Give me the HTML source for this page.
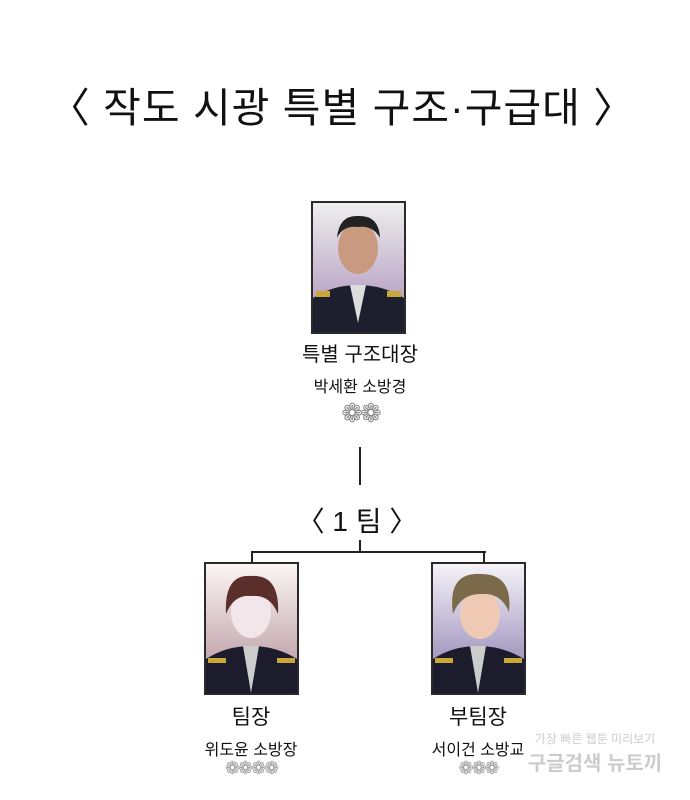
<!DOCTYPE html>
<html><head><meta charset="utf-8"><style>
body{margin:0;width:690px;height:800px;background:#fff;position:relative;overflow:hidden;font-family:"Liberation Sans","Noto Sans CJK KR",sans-serif;color:#111}
.t{position:absolute;left:0;width:690px;text-align:center;white-space:nowrap}
.a{position:absolute;text-align:center;white-space:nowrap}
.p{position:absolute;border:2px solid #2a2a2a;box-sizing:border-box;overflow:hidden}
.l{position:absolute;background:#222}
</style></head><body>
<div class="t" style="top:74px;font-size:41px;font-weight:400;letter-spacing:1px;left:-3px">〈 작도 시광 특별 구조·구급대 〉</div>

<div class="p" style="left:311px;top:201px;width:95px;height:133px">
<svg width="91" height="129"><defs><linearGradient id="g1" x1="0" y1="0" x2="0" y2="1"><stop offset="0" stop-color="#eee"/><stop offset="1" stop-color="#a88bb8"/></linearGradient></defs>
<rect width="91" height="129" fill="url(#g1)"/>
<ellipse cx="45" cy="45" rx="20" ry="26" fill="#c99a80"/>
<path d="M24 35 Q26 12 45 13 Q66 12 67 35 Q60 22 45 24 Q30 22 24 35Z" fill="#222"/>
<path d="M0 129 L0 95 Q20 82 45 82 Q70 82 91 95 L91 129Z" fill="#1d1f2e"/>
<path d="M37 82 L45 120 L53 82Z" fill="#ddd"/>
<rect x="3" y="88" width="14" height="6" fill="#c9a838"/><rect x="74" y="88" width="14" height="6" fill="#c9a838"/>
</svg></div>

<div class="a" style="left:260px;top:338px;width:200px;font-size:20px;font-weight:400">특별 구조대장</div>
<div class="a" style="left:260px;top:373px;width:200px;font-size:16px">박세환 소방경</div>
<div class="a" style="left:320px;top:398px;width:80px;font-size:26px;color:#888;letter-spacing:-3px">❁❁</div>

<div class="l" style="left:359px;top:447px;width:2px;height:38px"></div>
<div class="t" style="top:500px;font-size:28px;font-weight:400;left:12px">〈 1 팀 〉</div>
<div class="l" style="left:359px;top:540px;width:2px;height:12px"></div>
<div class="l" style="left:251px;top:551px;width:235px;height:2px"></div>
<div class="l" style="left:251px;top:551px;width:2px;height:12px"></div>
<div class="l" style="left:483px;top:551px;width:2px;height:12px"></div>

<div class="p" style="left:204px;top:562px;width:95px;height:133px">
<svg width="91" height="129"><defs><linearGradient id="g2" x1="0" y1="0" x2="0" y2="1"><stop offset="0" stop-color="#fbf5f3"/><stop offset="1" stop-color="#b08e98"/></linearGradient></defs>
<rect width="91" height="129" fill="url(#g2)"/>
<ellipse cx="45" cy="48" rx="20" ry="26" fill="#f3e6ea"/>
<path d="M20 50 Q18 10 45 12 Q74 10 72 50 Q64 30 45 32 Q28 30 20 50Z" fill="#5a2e2a"/>
<path d="M0 129 L0 95 Q20 82 45 82 Q70 82 91 95 L91 129Z" fill="#1d1c2c"/>
<path d="M37 82 L45 129 L53 82Z" fill="#ccc"/>
<rect x="2" y="94" width="18" height="5" fill="#c9a838"/><rect x="71" y="94" width="18" height="5" fill="#c9a838"/>
</svg></div>

<div class="p" style="left:431px;top:562px;width:95px;height:133px">
<svg width="91" height="129"><defs><linearGradient id="g3" x1="0" y1="0" x2="0" y2="1"><stop offset="0" stop-color="#f5f3f8"/><stop offset="1" stop-color="#8678ac"/></linearGradient></defs>
<rect width="91" height="129" fill="url(#g3)"/>
<ellipse cx="47" cy="50" rx="20" ry="25" fill="#f0c9b4"/>
<path d="M20 50 Q14 8 48 10 Q80 10 76 48 Q68 28 47 30 Q28 30 20 50Z" fill="#7a6a4a"/>
<path d="M0 129 L0 95 Q20 82 45 82 Q70 82 91 95 L91 129Z" fill="#1d1c2c"/>
<path d="M37 82 L45 129 L53 82Z" fill="#ccc"/>
<rect x="2" y="94" width="18" height="5" fill="#c9a838"/><rect x="71" y="94" width="18" height="5" fill="#c9a838"/>
</svg></div>

<div class="a" style="left:151px;top:701px;width:200px;font-size:21px;font-weight:400">팀장</div>
<div class="a" style="left:151px;top:736px;width:200px;font-size:16px">위도윤 소방장</div>
<div class="a" style="left:201px;top:758px;width:100px;font-size:18px;color:#999;letter-spacing:-2px">❁❁❁❁</div>

<div class="a" style="left:378px;top:701px;width:200px;font-size:21px;font-weight:400">부팀장</div>
<div class="a" style="left:378px;top:736px;width:200px;font-size:16px">서이건 소방교</div>
<div class="a" style="left:438px;top:758px;width:80px;font-size:18px;color:#999;letter-spacing:-2px">❁❁❁</div>

<div class="a" style="left:515px;top:730px;width:160px;font-size:12px;color:#ccc">가장 빠른 웹툰 미리보기</div>
<div class="a" style="left:515px;top:747px;width:160px;font-size:20px;color:#ccc;font-weight:700">구글검색 뉴토끼</div>
</body></html>
